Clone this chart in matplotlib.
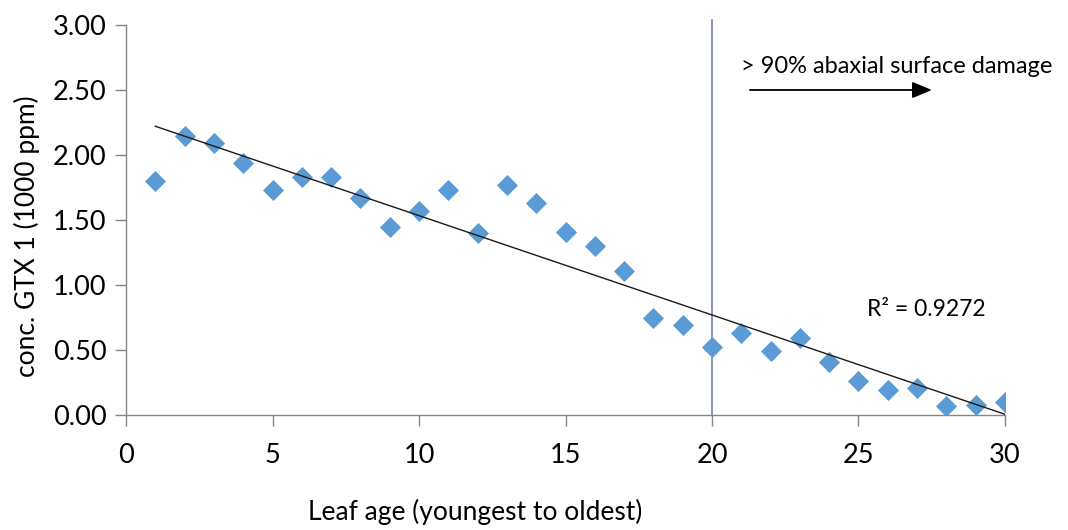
import matplotlib
matplotlib.use("Agg")
import matplotlib.pyplot as plt
import numpy as np

plt.rcParams['font.family'] = ['Lato', 'DejaVu Sans']

leaf_age = list(range(1, 31))
conc = [1.80, 2.15, 2.09, 1.94, 1.73, 1.83, 1.83, 1.67, 1.45, 1.57,
        1.73, 1.40, 1.77, 1.63, 1.41, 1.30, 1.11, 0.75, 0.69, 0.52,
        0.63, 0.49, 0.59, 0.41, 0.26, 0.19, 0.21, 0.07, 0.08, 0.10]
x_ticks = [0, 5, 10, 15, 20, 25, 30]
y_ticks = [0.0, 0.5, 1.0, 1.5, 2.0, 2.5, 3.0]
r2_label = "R² = 0.9272"
damage_label = "> 90% abaxial surface damage"
damage_start = 20

fig = plt.figure(figsize=(10.68, 5.30), dpi=100)
ax = fig.add_axes([126/1068, 1-415/530, (1005-126)/1068, (415-25)/530])

ax.scatter(leaf_age, conc, marker='D', s=115, color='#5B9BD5', zorder=3, linewidths=0)

# linear trend line
coef = np.polyfit(leaf_age, conc, 1)
xs = np.array([leaf_age[0], leaf_age[-1]])
ax.plot(xs, np.polyval(coef, xs), color='#1a1a1a', lw=1.0, zorder=4)

# vertical marker
ax.plot([damage_start, damage_start], [0, 3.04], color='#7F8FA6', lw=1.3,
        clip_on=False, zorder=2)

ax.set_xlim(0, 30)
ax.set_ylim(0, 3.0)
ax.set_xticks(x_ticks)
ax.set_xticklabels([str(v) for v in x_ticks])
ax.set_yticks(y_ticks)
ax.set_yticklabels([f"{v:.2f}" for v in y_ticks])

for s in ['top', 'right']:
    ax.spines[s].set_visible(False)
for s in ['left', 'bottom']:
    ax.spines[s].set_color('#868686')
    ax.spines[s].set_linewidth(1.0)
ax.tick_params(axis='both', colors='#868686', length=8, width=1.0,
               labelcolor='black', labelsize=19.5, direction='out')
ax.tick_params(axis='x', pad=12)
ax.tick_params(axis='y', pad=6)

ax.set_xlabel("Leaf age (youngest to oldest)", fontsize=19, ha='center', va='center')
ax.xaxis.set_label_coords((475-126)/879, (415-512)/390)
ax.set_ylabel("conc. GTX 1 (1000 ppm)", fontsize=19, ha='center', va='center')
ax.yaxis.set_label_coords((27-126)/879, (415-236)/390)

ax.text(21.0, 2.68, damage_label, fontsize=17, ha='left', va='center')
ax.annotate("", xy=(27.6, 2.50), xytext=(21.2, 2.50),
            arrowprops=dict(arrowstyle='-|>,head_length=1.2,head_width=0.5',
                            color='black', lw=1.3))
ax.text(25.3, 0.81, r2_label, fontsize=16.5, ha='left', va='center')

fig.savefig("out.png", dpi=100)
